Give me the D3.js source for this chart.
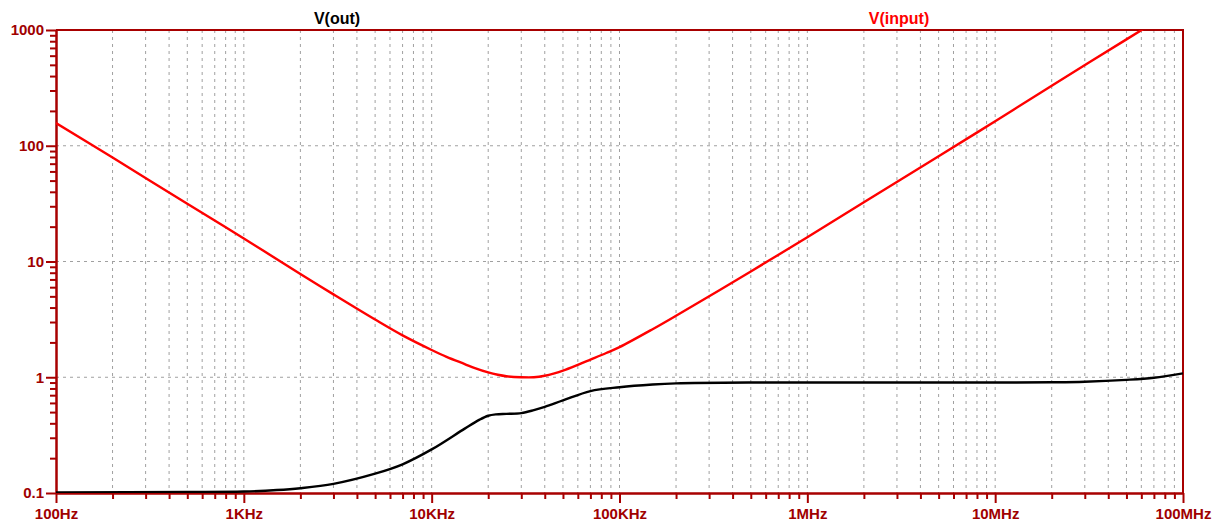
<!DOCTYPE html>
<html lang="en">
<head>
    <meta charset="UTF-8">
    <title>V(out) / V(input)</title>
    <script src="https://d3js.org/d3.v7.min.js"></script>
    <style>
        body {
            margin: 0;
            padding: 0;
            background: #fff;
            font-family: 'Liberation Sans', Arial, sans-serif;
        }

        .grid line {
            stroke: #a0a0a0;
            stroke-width: 1px;
            stroke-dasharray: 3, 4;
        }

        .axis path,
        .axis line {
            stroke: #a80000;
            stroke-width: 2px;
        }

        .axis text {
            fill: #a00000;
            font: bold 15px 'Liberation Sans', Arial, sans-serif;
        }

        .trace {
            fill: none;
            stroke-width: 2.4px;
            stroke-linejoin: round;
        }

        .title {
            font: bold 16px 'Liberation Sans', Arial, sans-serif;
            text-anchor: middle;
        }
    </style>
</head>
<body>
<svg width="1217" height="523"></svg>

<script>
    // V(input)
    var freqInput = [1e2, 2e2, 5e2, 1e3, 2e3, 3e3, 5e3, 7e3, 1e4, 1.2e4, 1.5e4, 1.7e4, 2e4, 2.25e4, 2.5e4,
        3e4, 3.5e4, 4e4, 4.5e4, 5e4, 6e4, 7e4, 8.5e4, 1e5, 1.5e5, 2e5, 5e5, 1e6, 2e6, 5e6, 1e7, 2e7, 5e7, 1e8];
    var vInput = [157, 79, 31.5, 15.8, 7.8, 5.2, 3.15, 2.3, 1.72, 1.5, 1.3, 1.2, 1.1, 1.05, 1.02,
        1.0, 1.0, 1.03, 1.08, 1.14, 1.28, 1.42, 1.62, 1.82, 2.6, 3.4, 8.2, 16.2, 32.5, 81, 163, 330, 830, 1660];

    // V(out)
    var freqOut = [1e2, 5e2, 1e3, 1.5e3, 2e3, 3e3, 5e3, 7e3, 1e4, 1.5e4, 1.8e4, 2e4, 2.2e4, 2.5e4, 3e4,
        3.5e4, 4e4, 5e4, 7e4, 1e5, 1.5e5, 2e5, 5e5, 1e6, 2e6, 5e6, 1e7, 2e7, 3e7, 5e7, 7e7, 1e8];
    var vOut = [0.101, 0.102, 0.103, 0.106, 0.11, 0.12, 0.147, 0.177, 0.238, 0.36, 0.43, 0.465, 0.478, 0.483, 0.49,
        0.52, 0.555, 0.63, 0.76, 0.82, 0.865, 0.885, 0.9, 0.9, 0.9, 0.9, 0.9, 0.905, 0.915, 0.95, 0.99, 1.08];

    var xTicks = [1e2, 1e3, 1e4, 1e5, 1e6, 1e7, 1e8];
    var xTickLabels = ["100Hz", "1KHz", "10KHz", "100KHz", "1MHz", "10MHz", "100MHz"];
    var yTicks = [0.1, 1, 10, 100, 1000];
    var yTickLabels = ["0.1", "1", "10", "100", "1000"];

    var svg = d3.select("svg"),
        margin = {top: 30, right: 34, bottom: 30, left: 56},
        width = +svg.attr("width") - margin.left - margin.right,
        height = +svg.attr("height") - margin.top - margin.bottom;

    var x = d3.scaleLog().domain([1e2, 1e8]).range([0, width]);
    var y = d3.scaleLog().domain([0.1, 1000]).range([height, 0]);

    // 2..9 in every decade
    function minors(ticks) {
        var out = [];
        ticks.slice(0, -1).forEach(function(t) {
            for (var k = 2; k <= 9; k++) out.push(t * k);
        });
        return out;
    }
    var xMinor = minors(xTicks);
    var yMinor = minors(yTicks);

    var g = svg.append("g")
        .attr("transform", "translate(" + margin.left + "," + margin.top + ")");

    // grid: vertical on every tick, horizontal on decades only
    g.append("g").attr("class", "grid")
        .selectAll("line")
        .data(xMinor.concat(xTicks.slice(1, -1)))
        .enter().append("line")
        .attr("x1", function(d) { return x(d); })
        .attr("x2", function(d) { return x(d); })
        .attr("y1", 0).attr("y2", height);

    g.append("g").attr("class", "grid")
        .selectAll("line")
        .data(yTicks.slice(1, -1))
        .enter().append("line")
        .attr("y1", function(d) { return y(d); })
        .attr("y2", function(d) { return y(d); })
        .attr("x1", 0).attr("x2", width);

    // axes: minor ticks first, then majors with labels
    g.append("g").attr("class", "axis")
        .attr("transform", "translate(0," + height + ")")
        .call(d3.axisBottom(x).tickValues(xMinor).tickSize(6).tickSizeOuter(0).tickFormat(""));
    g.append("g").attr("class", "axis")
        .attr("transform", "translate(0," + height + ")")
        .call(d3.axisBottom(x).tickValues(xTicks).tickSize(10).tickSizeOuter(0).tickPadding(5)
            .tickFormat(function(d, i) { return xTickLabels[i]; }));

    g.append("g").attr("class", "axis")
        .call(d3.axisLeft(y).tickValues(yMinor).tickSize(6).tickSizeOuter(0).tickFormat(""));
    g.append("g").attr("class", "axis")
        .call(d3.axisLeft(y).tickValues(yTicks).tickSize(10).tickSizeOuter(0).tickPadding(2)
            .tickFormat(function(d, i) { return yTickLabels[i]; }));

    // top and right border
    g.append("path")
        .attr("d", "M0,0H" + width + "V" + height)
        .attr("fill", "none")
        .attr("stroke", "#a80000")
        .attr("stroke-width", 2);

    g.append("clipPath").attr("id", "clip")
        .append("rect").attr("width", width).attr("height", height);

    var line = d3.line()
        .x(function(d) { return x(d[0]); })
        .y(function(d) { return y(d[1]); })
        .curve(d3.curveCatmullRom.alpha(0.5));

    g.append("path")
        .attr("class", "trace")
        .attr("clip-path", "url(#clip)")
        .attr("stroke", "#ff0000")
        .attr("d", line(d3.zip(freqInput, vInput)));

    g.append("path")
        .attr("class", "trace")
        .attr("clip-path", "url(#clip)")
        .attr("stroke", "#000")
        .attr("d", line(d3.zip(freqOut, vOut)));

    // trace names
    svg.append("text").attr("class", "title")
        .attr("x", 337).attr("y", 24)
        .attr("fill", "#000")
        .text("V(out)");
    svg.append("text").attr("class", "title")
        .attr("x", 899).attr("y", 24)
        .attr("fill", "#ff0000")
        .text("V(input)");
</script>
</body>
</html>
